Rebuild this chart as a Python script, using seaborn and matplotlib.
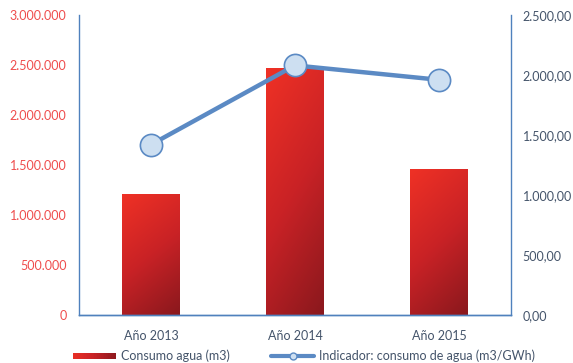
import numpy as np
import matplotlib
matplotlib.use("Agg")
import matplotlib.pyplot as plt
from matplotlib.colors import LinearSegmentedColormap
from matplotlib.legend_handler import HandlerBase
from matplotlib.patches import Rectangle
from matplotlib.lines import Line2D
from matplotlib.ticker import FuncFormatter, MultipleLocator
import seaborn as sns

# Datos
anios = ["Año 2013", "Año 2014", "Año 2015"]
consumo_agua = [1210000, 2470000, 1460000]          # m3
indicador = [1420.0, 2080.0, 1960.0]                 # m3/GWh

sns.set_theme(style="white")
plt.rcParams["font.family"] = ["Lato", "DejaVu Sans"]

BLUE = "#4f81bd"
LINE_BLUE = "#5b8ac4"
MARK_FACE = "#cddff1"
RED_TXT = "#ef4c4c"
GRAY_TXT = "#44546a"
RED_LIGHT = "#ef3125"
RED_DARK = "#8a181d"

fig = plt.figure(figsize=(5.73, 3.63), dpi=100)
ax = fig.add_axes([79 / 573, 48 / 363, 432 / 573, 300 / 363])

sns.barplot(x=anios, y=consumo_agua, ax=ax, width=0.4, color=RED_LIGHT,
            saturation=1, edgecolor="none")

ax.set_ylim(0, 3000000)
ax.set_xlim(-0.5, 2.5)
ax.yaxis.set_major_locator(MultipleLocator(500000))
ax.yaxis.set_major_formatter(FuncFormatter(lambda v, p: f"{int(v):,}".replace(",", ".")))
ax.set_xlabel("")
ax.set_ylabel("")

# Relleno degradado de las barras (claro arriba a la izquierda, oscuro abajo a la derecha)
cmap = LinearSegmentedColormap.from_list("rojo", [RED_LIGHT, "#c92226", RED_DARK])
for patch in ax.patches:
    x0, y0 = patch.get_x(), patch.get_y()
    w, h = patch.get_width(), patch.get_height()
    u, v = np.meshgrid(np.linspace(0, 1, 60), np.linspace(1, 0, 120))
    t = 0.72 * (1 - v) + 0.28 * u
    im = ax.imshow(t, extent=[x0, x0 + w, y0, y0 + h], origin="upper",
                   cmap=cmap, vmin=0, vmax=1, aspect="auto", zorder=2,
                   interpolation="bilinear")
    im.set_clip_path(patch)
ax.set_xlim(-0.5, 2.5)
ax.set_ylim(0, 3000000)
ax.set_aspect("auto")

ax2 = ax.twinx()
sns.pointplot(x=anios, y=indicador, ax=ax2, color=LINE_BLUE, markers="o",
              linestyles="-", errorbar=None)
for ln in ax2.lines:
    ln.set_linewidth(3.2)
    ln.set_markersize(16)
    ln.set_markerfacecolor(MARK_FACE)
    ln.set_markeredgecolor(LINE_BLUE)
    ln.set_markeredgewidth(1.2)
    ln.set_solid_capstyle("butt")
for coll in ax2.collections:
    coll.set_sizes([16 ** 2])
    coll.set_facecolor(MARK_FACE)
    coll.set_edgecolor(LINE_BLUE)
    coll.set_linewidth(1.2)
ax2.set_ylim(0, 2500)
ax2.set_xlim(-0.5, 2.5)
ax2.yaxis.set_major_locator(MultipleLocator(500))
ax2.yaxis.set_major_formatter(
    FuncFormatter(lambda v, p: f"{v:,.2f}".replace(",", "X").replace(".", ",").replace("X", ".")))
ax2.set_ylabel("")
ax2.set_xlabel("")

for a in (ax, ax2):
    a.spines["top"].set_visible(False)
    for s in ("left", "right", "bottom"):
        a.spines[s].set_color(BLUE)
        a.spines[s].set_linewidth(1.0)
    a.tick_params(length=0)
    a.grid(False)
    a.set_facecolor("none")
ax.spines["right"].set_visible(False)
ax2.spines["left"].set_visible(False)

ax.tick_params(axis="y", colors=RED_TXT, labelsize=9, pad=9)
ax.tick_params(axis="x", colors=GRAY_TXT, labelsize=9, pad=10.5)
ax2.tick_params(axis="y", colors=GRAY_TXT, labelsize=9, pad=8.5)


class GradientHandler(HandlerBase):
    def create_artists(self, legend, orig_handle, xdescent, ydescent,
                       width, height, fontsize, trans):
        n = 30
        arts = []
        hh = height * 0.75
        yb = -ydescent + (height - hh) / 2
        for i in range(n):
            arts.append(Rectangle((-xdescent + width * i / n, yb), width / n + 0.3, hh,
                                  facecolor=cmap(0.1 + 0.85 * i / (n - 1)),
                                  edgecolor="none", transform=trans))
        return arts


bar_handle = Rectangle((0, 0), 1, 1)
line_handle = Line2D([], [], color=LINE_BLUE, lw=3, marker="o", markersize=5,
                     markerfacecolor=MARK_FACE, markeredgecolor=LINE_BLUE)
leg = fig.legend([bar_handle, line_handle],
                 ["Consumo agua (m3)", "Indicador: consumo de agua (m3/GWh)"],
                 handler_map={Rectangle: GradientHandler()},
                 loc="center left", bbox_to_anchor=(68 / 573, 1 - 356 / 363),
                 ncol=2, frameon=False, fontsize=9, handlelength=3.4,
                 handletextpad=0.45, columnspacing=3.3, borderaxespad=0)
for txt in leg.get_texts():
    txt.set_color(GRAY_TXT)

fig.savefig("out.png", dpi=100)
